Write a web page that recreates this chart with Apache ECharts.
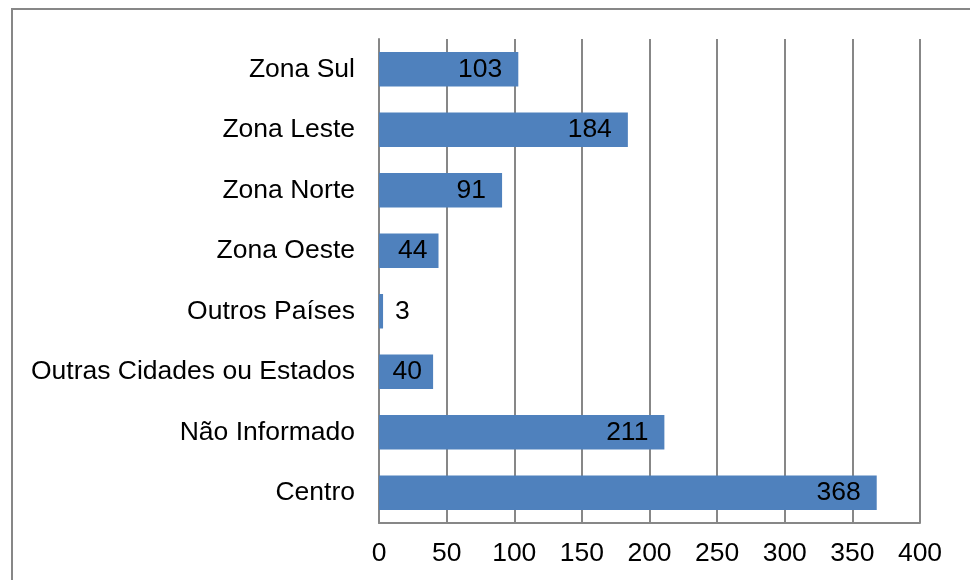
<!DOCTYPE html>
<html>
<head>
  <meta charset="utf-8">
  <title>Bar chart</title>
  <script src="https://cdn.jsdelivr.net/npm/echarts@6/dist/echarts.min.js"></script>
  <style>
    html, body { margin: 0; padding: 0; background: #fff; }
    #chart { width: 970px; height: 580px; }
  </style>
</head>
<body>
<div id="chart"></div>
<script>
  // categories bottom -> top
  var categories = ['Centro', 'Não Informado', 'Outras Cidades ou Estados', 'Outros Países',
    'Zona Oeste', 'Zona Norte', 'Zona Leste', 'Zona Sul'];
  var values = [368, 211, 40, 3, 44, 91, 184, 103];
  var xTicks = [0, 400, 50]; // min, max, interval

  var chart = echarts.init(document.getElementById('chart'));
  var font = 'Liberation Sans, Arial, sans-serif';

  var seriesData = values.map(function (v) {
    var small = v < 20;
    return {
      value: v,
      label: { position: small ? 'right' : 'insideRight', distance: small ? 12 : (v < 50 ? 11 : 16) }
    };
  });

  chart.setOption({
    animation: false,
    graphic: [{
      type: 'rect',
      shape: { x: 12, y: 9, width: 1000, height: 620 },
      style: { fill: 'none', stroke: '#878787', lineWidth: 2 },
      silent: true
    }],
    grid: { left: 379, right: 50, top: 39, bottom: 57 },
    xAxis: {
      type: 'value',
      min: xTicks[0], max: xTicks[1], interval: xTicks[2],
      axisLine: { show: true, lineStyle: { color: '#878787', width: 2 } },
      axisTick: { show: false },
      splitLine: { show: true, lineStyle: { color: '#878787', width: 2 } },
      axisLabel: { color: '#000', fontFamily: font, fontSize: 26.5, margin: 17 }
    },
    yAxis: {
      type: 'category',
      data: categories,
      axisLine: { show: true, lineStyle: { color: '#878787', width: 2 } },
      axisTick: { show: false },
      axisLabel: { color: '#000', fontFamily: font, fontSize: 26.5, margin: 24 }
    },
    series: [{
      type: 'bar',
      data: seriesData,
      barWidth: '57%',
      itemStyle: { color: '#4F81BD' },
      label: { show: true, color: '#000', fontFamily: font, fontSize: 26.5 }
    }]
  });
</script>
</body>
</html>
